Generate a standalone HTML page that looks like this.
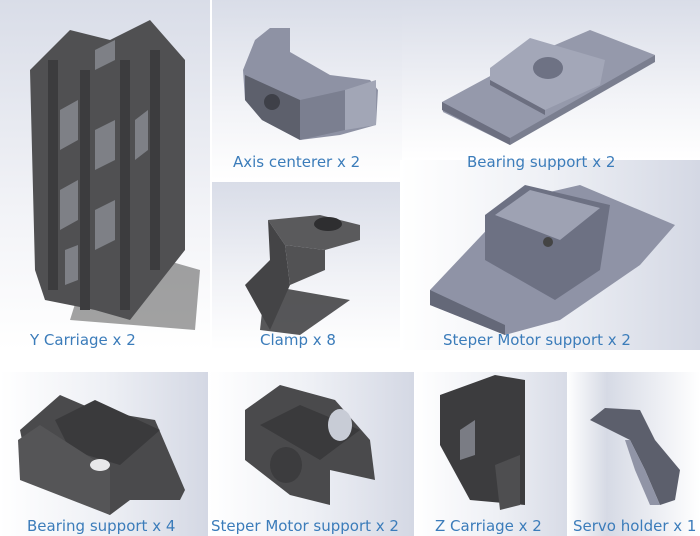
<!DOCTYPE html>
<html><head><meta charset="utf-8"><style>
body{margin:0;background:#fff;width:700px;height:536px;overflow:hidden;font-family:"DejaVu Sans","Liberation Sans",sans-serif}
svg{display:block}
text{font-family:"DejaVu Sans","Liberation Sans",sans-serif;font-size:15px;fill:#3b7cba}
</style></head><body>
<svg width="700" height="536" viewBox="0 0 700 536">
<defs>
<linearGradient id="bg" x1="0" y1="0" x2="0" y2="1">
<stop offset="0" stop-color="#d9dde8"/><stop offset="0.6" stop-color="#f2f3f7"/><stop offset="1" stop-color="#fff"/></linearGradient>
<linearGradient id="bg2" x1="1" y1="0" x2="0" y2="0">
<stop offset="0" stop-color="#d4d8e4"/><stop offset="0.5" stop-color="#eef0f5"/><stop offset="1" stop-color="#fff"/></linearGradient>
<linearGradient id="bg3" x1="0" y1="0" x2="1" y2="0">
<stop offset="0" stop-color="#fff"/><stop offset="0.3" stop-color="#d6dae5"/><stop offset="1" stop-color="#fff"/></linearGradient>
</defs>
<rect x="0" y="0" width="210" height="350" fill="url(#bg)"/>
<rect x="212" y="0" width="190" height="180" fill="url(#bg)"/>
<rect x="402" y="0" width="298" height="160" fill="url(#bg)"/>
<rect x="212" y="182" width="188" height="168" fill="url(#bg)"/>
<rect x="400" y="160" width="300" height="190" fill="url(#bg2)"/>
<rect x="0" y="372" width="208" height="164" fill="url(#bg2)"/>
<rect x="208" y="372" width="206" height="164" fill="url(#bg2)"/>
<rect x="414" y="372" width="165" height="164" fill="url(#bg2)"/>
<rect x="567" y="372" width="133" height="164" fill="url(#bg3)"/>

<!-- Y carriage -->
<polygon points="95,240 200,270 195,330 70,320" fill="#555" opacity="0.55"/>
<polygon points="30,70 70,30 110,40 150,20 185,60 185,250 130,320 95,310 45,300 35,270" fill="#505052"/>
<g fill="#3c3c3e">
<rect x="48" y="60" width="10" height="230"/><rect x="80" y="70" width="10" height="240"/><rect x="120" y="60" width="10" height="250"/><rect x="150" y="50" width="10" height="220"/>
</g>
<g fill="#8a8c94" opacity="0.8">
<polygon points="60,110 78,100 78,140 60,150"/><polygon points="95,130 115,120 115,160 95,170"/><polygon points="60,190 78,180 78,220 60,230"/><polygon points="95,210 115,200 115,240 95,250"/><polygon points="135,120 148,110 148,150 135,160"/>
<polygon points="95,50 115,40 115,60 95,70"/><polygon points="65,250 78,245 78,280 65,285"/>
</g>

<!-- Axis centerer -->
<polygon points="255,40 270,28 290,28 290,52 330,75 370,80 378,90 376,125 340,135 300,140 262,120 245,100 243,70" fill="#8e92a4"/>
<polygon points="245,75 300,100 300,140 262,120 245,100" fill="#5d606c"/>
<polygon points="300,100 345,90 345,130 300,140" fill="#7b7f90"/>
<polygon points="345,90 376,80 376,125 345,130" fill="#a2a6b6"/>
<circle cx="272" cy="102" r="8" fill="#3e4048"/>
<text x="233" y="167">Axis centerer x 2</text>

<!-- Bearing support top -->
<polygon points="442,102 520,60 590,30 655,55 580,100 510,145 443,112" fill="#9599ab"/>
<polygon points="442,102 510,138 510,145 442,110" fill="#6c6f80"/>
<polygon points="510,138 655,55 655,62 510,145" fill="#7a7e8f"/>
<polygon points="490,68 530,38 605,60 600,85 545,110 490,80" fill="#a3a7b8"/>
<polygon points="490,80 545,110 545,115 490,85" fill="#6c6f80"/>
<ellipse cx="548" cy="68" rx="15" ry="11" fill="#6e7284"/>
<text x="467" y="167">Bearing support x 2</text>

<!-- Clamp -->
<polygon points="265,285 350,300 300,335 260,330" fill="#3a3a3c" opacity="0.85"/>
<polygon points="268,220 320,215 360,225 360,240 325,250 285,245" fill="#5a5a5c"/>
<ellipse cx="328" cy="224" rx="14" ry="7" fill="#2e2e30"/>
<polygon points="268,220 285,245 290,285 270,330 245,285 270,260" fill="#444446"/>
<polygon points="285,245 325,250 325,270 290,285" fill="#525254"/>
<text x="260" y="345">Clamp x 8</text>

<!-- Steper motor support top -->
<polygon points="430,290 515,200 580,185 675,225 640,265 560,320 505,335 430,305" fill="#8f93a6"/>
<polygon points="485,215 525,185 610,205 600,270 555,300 485,260" fill="#6d7183"/>
<polygon points="495,215 530,190 600,208 560,240" fill="#9ea2b3"/>
<circle cx="548" cy="242" r="5" fill="#444"/>
<polygon points="430,290 505,325 505,335 430,305" fill="#646878"/>
<text x="443" y="345">Steper Motor support x 2</text>

<text x="30" y="345">Y Carriage x 2</text>

<!-- Bearing support bottom -->
<polygon points="20,430 60,395 95,410 155,420 185,490 180,500 130,500 110,515 30,480" fill="#4a4a4c"/>
<polygon points="55,420 95,400 160,430 120,465 70,450" fill="#3a3a3c"/>
<polygon points="40,425 110,470 110,515 20,480 18,440" fill="#555557"/>
<ellipse cx="100" cy="465" rx="10" ry="6" fill="#e8e8ea"/>
<text x="27" y="531">Bearing support x 4</text>

<!-- Steper motor support bottom -->
<polygon points="245,410 280,385 335,400 370,440 375,480 330,470 330,505 290,495 245,460" fill="#4a4a4c"/>
<polygon points="260,425 300,405 360,430 320,460" fill="#3a3a3c"/>
<ellipse cx="340" cy="425" rx="12" ry="16" fill="#c8ccd6"/>
<ellipse cx="286" cy="465" rx="16" ry="18" fill="#3c3c3e"/>
<text x="211" y="531">Steper Motor support x 2</text>

<!-- Z carriage -->
<polygon points="440,395 495,375 525,380 525,505 470,500 440,445" fill="#3c3c3e"/>
<polygon points="495,465 520,455 520,505 500,510" fill="#4e4e50"/>
<polygon points="460,430 475,420 475,455 460,460" fill="#7a7c84"/>
<text x="435" y="531">Z Carriage x 2</text>

<!-- Servo holder -->
<polygon points="590,420 605,408 640,410 655,440 680,470 675,500 660,505 645,470 630,440 610,430" fill="#5c5f6c"/>
<polygon points="630,440 645,470 660,505 650,505 635,470 625,440" fill="#9094a6"/>
<text x="573" y="531">Servo holder x 1</text>
</svg>
</body></html>
